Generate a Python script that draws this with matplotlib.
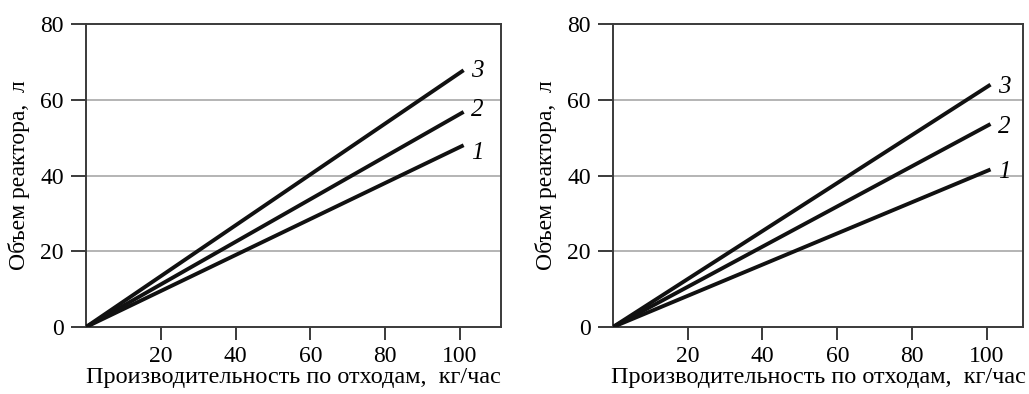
import matplotlib.pyplot as plt

plt.rcParams['font.family'] = ['Liberation Serif', 'DejaVu Serif']

# production rate (kg/h) at the two ends of each line
x_vals = [0, 101]

# reactor volume (l) for curves 1..3, left and right panels
left_curves = {
    "1": [0, 48],
    "2": [0, 56.8],
    "3": [0, 67.8],
}
right_curves = {
    "1": [0, 41.6],
    "2": [0, 53.6],
    "3": [0, 64.0],
}
# where the curve numbers sit
left_label_y = {"1": 46.0, "2": 57.3, "3": 67.6}
right_label_y = {"1": 41.0, "2": 52.8, "3": 63.5}

x_ticks = [20, 40, 60, 80, 100]
y_ticks = [0, 20, 40, 60, 80]
xlabel = "Производительность по отходам,  кг/час"
ylabel = "Объем реактора,  л"

axis_col = '#3a3a3a'


def draw_panel(ax, curves, label_y, xmax):
    for y in [20, 40, 60]:
        ax.axhline(y, color='#a8a8a8', lw=1.2, zorder=1)
    for name, vals in curves.items():
        ax.plot(x_vals, vals, color='#111111', lw=2.8, solid_capstyle='butt', zorder=3)
        ax.text(x_vals[-1] + 3.6, label_y[name], name, fontsize=18, style='italic',
                ha='center', va='center')
    ax.set_xlim(0, xmax)
    ax.set_ylim(0, 80)
    ax.set_xticks(x_ticks)
    ax.set_yticks(y_ticks)
    ax.tick_params(axis='x', direction='out', length=9, width=1.4, color=axis_col,
                   labelsize=17, pad=5)
    ax.tick_params(axis='y', direction='out', length=11, width=1.4, color=axis_col,
                   labelsize=17, pad=5)
    for sp in ax.spines.values():
        sp.set_linewidth(1.4)
        sp.set_color(axis_col)
    ax.set_xlabel(xlabel, fontsize=17.5, labelpad=0)
    ax.set_ylabel(ylabel, fontsize=17, labelpad=7)


fig = plt.figure(figsize=(10.29, 3.94), dpi=100)
ax1 = fig.add_axes([0.0836, 0.170, 0.4033, 0.769])
ax2 = fig.add_axes([0.5957, 0.170, 0.3985, 0.769])

draw_panel(ax1, left_curves, left_label_y, 111)
draw_panel(ax2, right_curves, right_label_y, 109.7)

fig.savefig("out.png", dpi=100)
